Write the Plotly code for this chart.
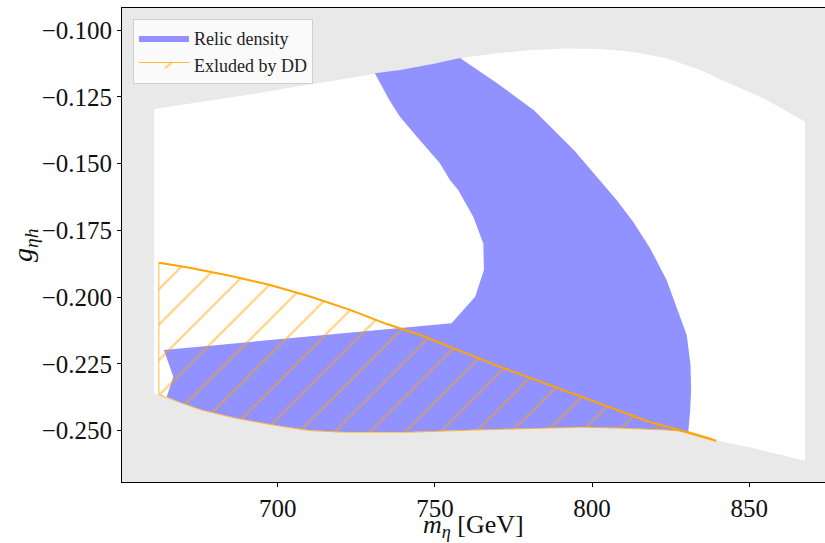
import plotly.graph_objects as go

# ---- data ----
# allowed parameter region (white area), upper and lower boundaries
bnd_top_x = [660.7, 675.3, 691.2, 707.1, 723.0, 738.9, 750.0, 760.0, 770.7, 781.0, 791.9,
             802.5, 813.1, 823.7, 834.3, 844.9, 855.5, 867.7]
bnd_top_y = [-0.1296, -0.1270, -0.1241, -0.1210, -0.1180, -0.1150, -0.1125, -0.1102, -0.1086,
             -0.1075, -0.1069, -0.1071, -0.1082, -0.1106, -0.1150, -0.1206, -0.1262, -0.1343]
bnd_bot_x = [660.7, 662.8, 669.0, 675.8, 686.8, 700.5, 710.1, 721.1, 741.6, 762.2, 782.8,
             796.5, 810.2, 823.9, 830.8, 835.5, 840.4, 851.3, 867.7]
bnd_bot_y = [-0.2362, -0.2367, -0.2395, -0.2423, -0.2454, -0.2483, -0.2500, -0.2506, -0.2506,
             -0.2498, -0.2491, -0.2487, -0.2491, -0.2498, -0.2504, -0.2520, -0.2539, -0.2566,
             -0.2613]

# relic density band (closed outline)
relic_x = [730.9, 738.9, 750.0, 758.0,
           769.9, 781.5, 794.2, 802.5, 807.8, 813.1, 818.4, 823.7, 827.3, 830.1, 831.3, 831.5,
           831.2, 830.6,
           823.9, 810.2, 796.5, 782.8, 762.2, 741.6, 721.1, 710.1, 700.5, 686.8, 675.8, 669.0,
           664.7,
           666.8, 663.8,
           755.3,
           762.8, 765.6, 765.4, 762.2, 757.4, 754.8, 751.6, 744.2, 738.9, 735.5, 732.5, 730.9]
relic_y = [-0.1162, -0.1150, -0.1125, -0.1105,
           -0.1200, -0.1300, -0.1449, -0.1562, -0.1636, -0.1719, -0.1816, -0.1936, -0.2049,
           -0.2142, -0.2254, -0.2348, -0.2423, -0.2504,
           -0.2497, -0.2490, -0.2486, -0.2490, -0.2497, -0.2505, -0.2505, -0.2499, -0.2482,
           -0.2453, -0.2422, -0.2394,
           -0.2373,
           -0.2298, -0.2198,
           -0.2098,
           -0.1999, -0.1899, -0.1799, -0.1699, -0.1599, -0.1562, -0.1499, -0.1399, -0.1325,
           -0.1262, -0.1200, -0.1162]

# direct-detection exclusion: upper limit curve and lower edge
dd_top_x = [662.2, 671.1, 684.8, 697.6, 710.3, 723.0, 734.7, 745.3, 770.7, 799.9, 817.9,
            830.6, 839.4]
dd_top_y = [-0.1871, -0.1888, -0.1920, -0.1955, -0.1998, -0.2048, -0.2101, -0.2142, -0.2261,
            -0.2389, -0.2466, -0.2508, -0.2538]
dd_bot_x = [662.2, 669.0, 675.8, 686.8, 700.5, 710.1, 721.1, 741.6, 762.2, 782.8, 796.5,
            810.2, 823.9, 830.8, 835.5, 839.4]
dd_bot_y = [-0.2365, -0.2395, -0.2423, -0.2454, -0.2483, -0.2500, -0.2506, -0.2506, -0.2498,
            -0.2491, -0.2487, -0.2491, -0.2498, -0.2504, -0.2520, -0.2536]

x_ticks = [700, 750, 800, 850]
y_ticks = [-0.100, -0.125, -0.150, -0.175, -0.200, -0.225, -0.250]

x_title = "<i>m</i><sub><i>η</i></sub> [GeV]"
y_title = "<i>g</i><sub><i>ηh</i></sub>"

FONT = "Liberation Serif"
GRAY = "#e9e9e9"
BLUE = "#9191ff"
ORANGE = "#ffa500"

fig = go.Figure()

# white allowed region
wx = bnd_top_x + bnd_bot_x[::-1]
wy = bnd_top_y + bnd_bot_y[::-1]
fig.add_trace(go.Scatter(x=wx + [wx[0]], y=wy + [wy[0]], mode="lines", fill="toself",
                         fillcolor="white", line=dict(width=0, color="white"),
                         showlegend=False, hoverinfo="skip"))

# relic density
fig.add_trace(go.Scatter(x=relic_x, y=relic_y, mode="lines", fill="toself",
                         fillcolor=BLUE, line=dict(width=0, color=BLUE),
                         name="Relic density"))

# excluded by DD (hatched)
hx = dd_top_x + dd_bot_x[::-1] + [dd_top_x[0]]
hy = dd_top_y + dd_bot_y[::-1] + [dd_top_y[0]]
fig.add_trace(go.Scatter(x=hx, y=hy, mode="lines", fill="toself",
                         fillcolor="rgba(0,0,0,0)",
                         fillpattern=dict(shape="/", fgcolor=ORANGE, bgcolor="rgba(0,0,0,0)",
                                          size=25, solidity=0.09),
                         line=dict(width=1, color="rgba(255,165,0,0.75)"),
                         name="Exluded by DD"))
fig.add_trace(go.Scatter(x=dd_top_x, y=dd_top_y, mode="lines",
                         line=dict(width=2, color=ORANGE), showlegend=False, hoverinfo="skip"))

fig.update_layout(
    width=825, height=543,
    margin=dict(l=122, r=0, t=8, b=61),
    paper_bgcolor="white", plot_bgcolor=GRAY,
    font=dict(family=FONT, color="#111111"),
    showlegend=True,
    legend=dict(x=0.0156, y=0.977, xanchor="left", yanchor="top", itemwidth=50,
                bgcolor="rgba(252,252,252,0.9)", bordercolor="#d0d0d0", borderwidth=1,
                font=dict(family=FONT, size=18, color="#222222")),
    xaxis=dict(range=[650.48, 874.08], tickvals=x_ticks, ticks="outside", ticklen=4,
               tickwidth=1, tickcolor="black", showgrid=False, zeroline=False,
               showline=True, linecolor="black", linewidth=1, mirror=True,
               automargin=False,
               tickfont=dict(family=FONT, size=25, color="#111111")),
    yaxis=dict(range=[-0.26923, -0.09176], tickvals=y_ticks, tickformat=".3f",
               ticks="outside", ticklen=4, tickwidth=1, tickcolor="black",
               showgrid=False, zeroline=False, showline=True, linecolor="black",
               linewidth=1, mirror=False, automargin=False,
               tickfont=dict(family=FONT, size=25, color="#111111")),
    annotations=[
        dict(text=x_title, xref="paper", yref="paper", x=0.5, y=-0.054,
             xanchor="center", yanchor="top", showarrow=False,
             font=dict(family=FONT, size=26, color="#111111")),
        dict(text=y_title, xref="paper", yref="paper", x=-0.1394, y=0.5,
             xanchor="center", yanchor="middle", textangle=-90, showarrow=False,
             font=dict(family=FONT, size=28, color="#111111")),
    ],
)

fig.write_html("out.html")
